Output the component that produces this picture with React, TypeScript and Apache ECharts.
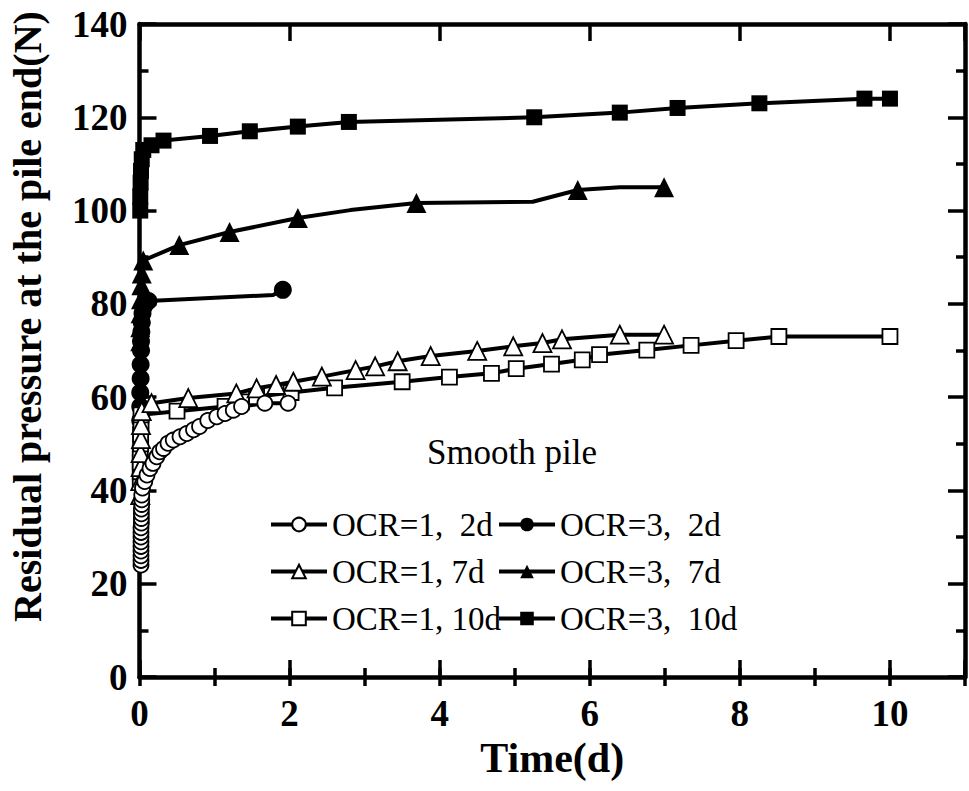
import { useEffect, useRef } from "react";
import * as echarts from "echarts";

// ---- data ----
const names = ["OCR=1,  2d", "OCR=3,  2d", "OCR=1, 7d", "OCR=3,  7d", "OCR=1, 10d", "OCR=3,  10d"];

const xTicks = [0, 2, 4, 6, 8, 10];

// OCR=1, 2d (open circles)
const c1d2T = [0.02, 0.02, 0.02, 0.02, 0.02, 0.02, 0.02, 0.02, 0.02, 0.025, 0.025, 0.025, 0.025, 0.03, 0.03, 0.03,
  0.04, 0.07, 0.1, 0.14, 0.18, 0.23, 0.27, 0.32, 0.38, 0.45, 0.54, 0.63, 0.72, 0.8, 0.91, 1.03, 1.14, 1.25, 1.36, 1.67, 1.98];
const c1d2V = [24, 25, 26, 27, 28, 29, 30, 31, 32, 33, 34, 35, 36, 37, 38, 39,
  40.5, 41.9, 43.3, 44.7, 45.8, 47.2, 48.3, 49, 50.1, 50.8, 51.5, 52.2, 53, 53.7, 55, 55.8, 56.5, 57.2, 58, 58.7, 58.7];

// OCR=3, 2d (filled circles)
const c3d2T = [0.01, 0.01, 0.01, 0.015, 0.015, 0.02, 0.02, 0.025, 0.03, 0.04, 0.06, 0.12, 1.78, 1.91];
const c3d2V = [55, 58, 61, 64, 67, 70, 72, 74, 76, 78, 79.5, 80.6, 81.9, 83];
const c3d2Mark = [1, 1, 1, 1, 1, 1, 1, 1, 1, 1, 1, 1, 0, 1];

// OCR=1, 7d (open triangles)
const c1d7T = [0.01, 0.01, 0.015, 0.015, 0.02, 0.02, 0.03, 0.16, 0.65, 1.29, 1.56, 1.82, 2.05, 2.43, 2.88, 3.14, 3.44,
  3.88, 4.5, 4.98, 5.37, 5.63, 6.4, 6.99];
const c1d7V = [39, 42, 45, 48, 51, 54, 57, 58.7, 59.8, 60.8, 61.9, 62.6, 63.3, 64.4, 65.8, 66.6, 67.7,
  68.8, 69.9, 70.9, 71.6, 72.4, 73.4, 73.4];

// OCR=3, 7d (filled triangles)
const c3d7T = [0.01, 0.01, 0.015, 0.02, 0.025, 0.03, 0.05, 0.53, 1.2, 2.11, 2.81, 3.69, 5.24, 5.84, 6.4, 6.99];
const c3d7V = [72, 75, 78, 81, 84, 86.5, 89.3, 92.6, 95.4, 98.4, 100.1, 101.6, 101.9, 104.4, 105, 105];
const c3d7Mark = [1, 1, 1, 1, 1, 1, 1, 1, 1, 1, 0, 1, 0, 1, 0, 1];

// OCR=1, 10d (open squares)
const c1d10T = [0.01, 0.01, 0.01, 0.01, 0.015, 0.015, 0.02, 0.02, 0.5, 1.14, 1.36, 1.56, 2.02, 2.6, 3.5, 4.13, 4.69,
  5.02, 5.49, 5.9, 6.13, 6.76, 7.35, 7.95, 8.52, 10];
const c1d10V = [42, 44, 46, 48, 50, 52, 54, 56.2, 57, 58, 59, 60.1, 61, 62, 63.3, 64.3, 65.1,
  66.1, 67.1, 68, 69.1, 70.1, 71.1, 72.1, 73, 73];

// OCR=3, 10d (filled squares)
const c3d10T = [0.01, 0.01, 0.015, 0.02, 0.03, 0.05, 0.16, 0.32, 0.94, 1.47, 2.11, 2.79, 5.26, 6.4, 7.17, 8.26, 9.66, 10];
const c3d10V = [100, 103, 106, 108.5, 111, 113, 114, 115, 116, 117, 118, 119, 120, 121, 122, 123, 124, 124];

const FONT = "Liberation Serif";

function pts(t: number[], v: number[], mark?: number[]) {
  return t.map((x, i) =>
    mark && !mark[i] ? { value: [x, v[i]], symbol: "none" } : { value: [x, v[i]] }
  );
}

function mkSeries(name: string, data: any[], symbol: string, size: number, filled: boolean) {
  return {
    name,
    type: "line",
    data,
    symbol,
    symbolSize: size,
    showSymbol: true,
    showAllSymbol: true,
    xAxisIndex: 0,
    yAxisIndex: 0,
    lineStyle: { color: "#000", width: 4 },
    itemStyle: { color: filled ? "#000" : "#fff", borderColor: "#000", borderWidth: filled ? 0 : 1.8, opacity: 1 },
    emphasis: { disabled: true },
  };
}

export default function App() {
  const ref = useRef<HTMLDivElement>(null);
  useEffect(() => {
    if (!ref.current) return;
    const chart = echarts.init(ref.current, undefined, { renderer: "svg" });

    const axisLine = { show: true, onZero: false, lineStyle: { color: "#000", width: 4.5 } };
    const xBase = { type: "value", min: 0, max: 11, gridIndex: 0, splitLine: { show: false } };
    const legendBase = {
      orient: "vertical",
      top: 503,
      itemWidth: 56,
      itemHeight: 17,
      itemGap: 14,
      selectedMode: false,
      lineStyle: { color: "#000", width: 4 },
      textStyle: { fontSize: 33, fontFamily: FONT, color: "#000" },
    };

    const option: any = {
      animation: false,
      backgroundColor: "#fff",
      textStyle: { fontFamily: FONT, color: "#000" },
      grid: { left: 139.5, right: 4, top: 24, bottom: 114, containLabel: false, outerBoundsMode: "none" },
      xAxis: [
        {
          ...xBase,
          position: "bottom",
          interval: 2,
          axisLine,
          axisTick: { show: true, inside: true, length: 17, lineStyle: { color: "#000", width: 3.5 } },
          axisLabel: {
            show: true,
            margin: 18,
            fontSize: 37,
            fontWeight: "bold",
            fontFamily: FONT,
            color: "#000",
            formatter: (v: number) => (xTicks.indexOf(v) >= 0 ? String(v) : ""),
          },
          name: "Time(d)",
          nameLocation: "middle",
          nameGap: 58,
          nameTextStyle: { fontSize: 42, fontWeight: "bold", fontFamily: FONT, color: "#000" },
        },
        {
          ...xBase,
          position: "bottom",
          interval: 1,
          axisLine: { show: false },
          axisTick: { show: true, inside: true, length: 9, lineStyle: { color: "#000", width: 3.5 } },
          axisLabel: { show: false },
        },
        {
          ...xBase,
          position: "top",
          interval: 2,
          axisLine,
          axisTick: { show: true, inside: true, length: 17, lineStyle: { color: "#000", width: 3.5 } },
          axisLabel: { show: false },
        },
        {
          ...xBase,
          position: "top",
          interval: 1,
          axisLine: { show: false },
          axisTick: { show: true, inside: true, length: 9, lineStyle: { color: "#000", width: 3.5 } },
          axisLabel: { show: false },
        },
      ],
      yAxis: [
        {
          type: "value",
          position: "left",
          min: 0,
          max: 140,
          interval: 20,
          splitLine: { show: false },
          axisLine,
          axisTick: { show: true, inside: true, length: 17, lineStyle: { color: "#000", width: 3.5 } },
          minorTick: { show: true, splitNumber: 2, length: 9, lineStyle: { color: "#000", width: 3.5 } },
          axisLabel: { show: true, margin: 12, fontSize: 37, fontWeight: "bold", fontFamily: FONT, color: "#000" },
          name: "Residual pressure at the pile end(N)",
          nameLocation: "middle",
          nameRotate: 90,
          nameGap: 92,
          nameTextStyle: { fontSize: 40, fontWeight: "bold", fontFamily: FONT, color: "#000", padding: [0, 0, 0, 68] },
        },
        {
          type: "value",
          position: "right",
          min: 0,
          max: 140,
          interval: 20,
          splitLine: { show: false },
          axisLine,
          axisTick: { show: true, inside: true, length: 17, lineStyle: { color: "#000", width: 3.5 } },
          minorTick: { show: true, splitNumber: 2, length: 9, lineStyle: { color: "#000", width: 3.5 } },
          axisLabel: { show: false },
        },
      ],
      legend: [
        { ...legendBase, data: [names[0], names[2], names[4]], left: 264 },
        { ...legendBase, data: [names[1], names[3], names[5]], left: 492 },
      ],
      graphic: [
        {
          type: "text",
          x: 512,
          y: 452,
          style: {
            text: "Smooth pile",
            fontSize: 35,
            fontFamily: FONT,
            fill: "#000",
            textAlign: "center",
            align: "center",
            verticalAlign: "middle",
            textVerticalAlign: "middle",
          },
        },
      ],
      series: [
        mkSeries(names[5], pts(c3d10T, c3d10V), "rect", 16, true),
        mkSeries(names[3], pts(c3d7T, c3d7V, c3d7Mark), "triangle", 20, true),
        mkSeries(names[1], pts(c3d2T, c3d2V, c3d2Mark), "circle", 18, true),
        mkSeries(names[4], pts(c1d10T, c1d10V), "rect", 15, false),
        mkSeries(names[2], pts(c1d7T, c1d7V), "triangle", 18, false),
        mkSeries(names[0], pts(c1d2T, c1d2V), "circle", 15, false),
      ],
    };
    chart.setOption(option);
    return () => chart.dispose();
  }, []);
  return (
    <div
      ref={ref}
      style={{ position: "fixed", left: 0, top: 0, width: 969, height: 791, background: "#fff" }}
    />
  );
}
